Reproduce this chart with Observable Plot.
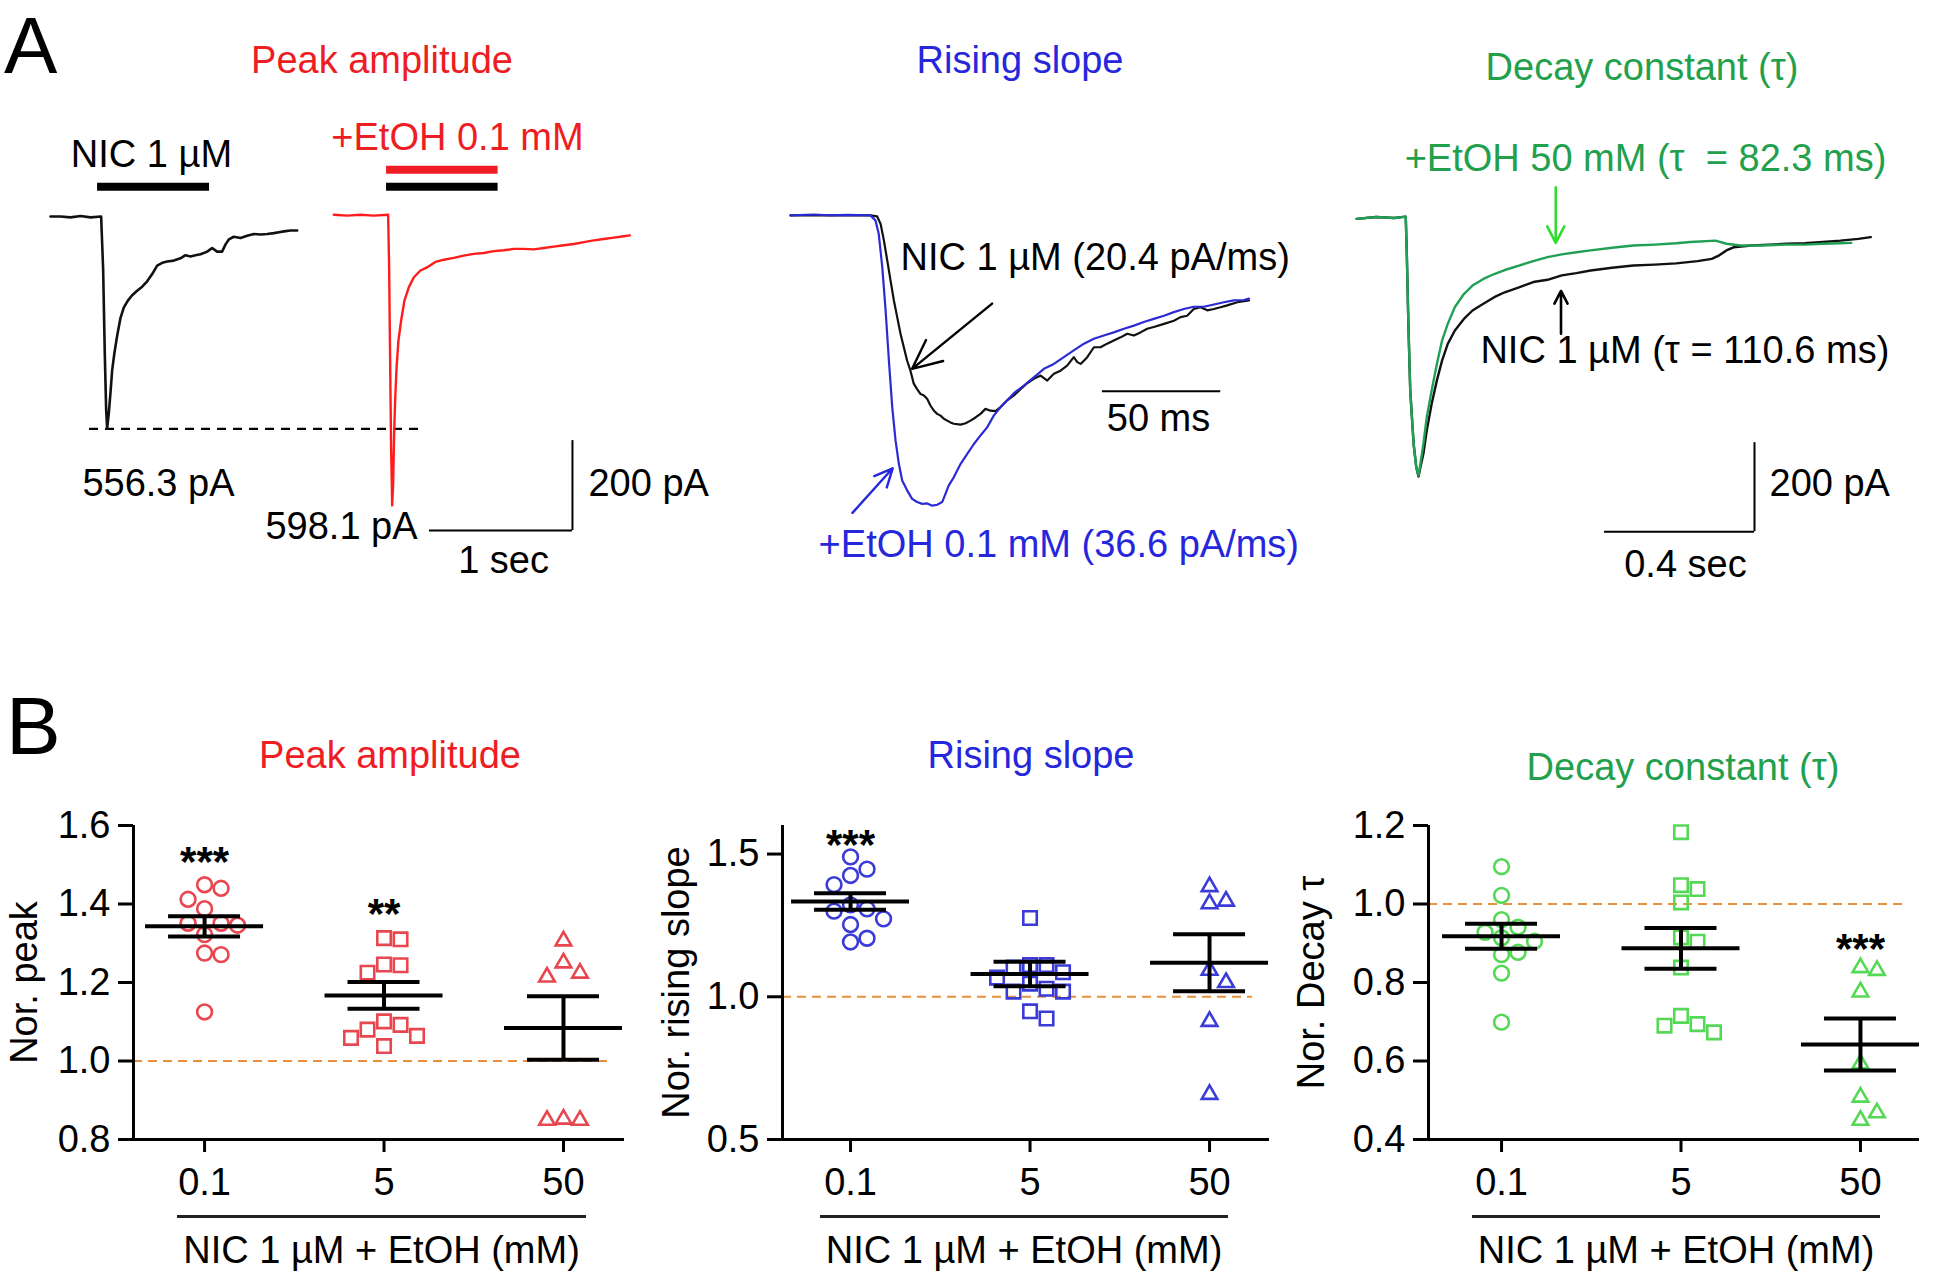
<!DOCTYPE html>
<html><head><meta charset="utf-8">
<script src="https://cdn.jsdelivr.net/npm/d3@7"></script>
<script src="https://cdn.jsdelivr.net/npm/@observablehq/plot@0.6"></script>
<style>
body{margin:0;background:#fff;}
#fig{position:relative;width:1933px;height:1278px;overflow:hidden;background:#fff;font-family:"Liberation Sans",Arial,Helvetica,sans-serif;}
.lbl{position:absolute;white-space:pre;line-height:1;}
</style></head><body><div id="fig"></div>
<script>
// ---------------- DATA ----------------
// Panel A traces: [time, current (pA)]
const peakNicTrace = [[0.07,0],[0.14,0],[0.21,-2],[0.28,1],[0.35,-2],[0.424,0],[0.438,-117],[0.45,-311],[0.459,-428],[0.466,-471],[0.478,-436],[0.49,-389],[0.501,-342],[0.517,-303],[0.536,-265],[0.559,-226],[0.583,-202],[0.611,-187],[0.641,-175],[0.676,-165],[0.711,-156],[0.746,-144],[0.781,-128],[0.816,-109],[0.851,-103],[0.886,-100],[0.932,-98],[0.979,-93],[1.014,-86],[1.049,-89],[1.084,-86],[1.119,-84],[1.166,-78],[1.2,-70],[1.235,-78],[1.27,-78],[1.294,-62],[1.317,-51],[1.352,-45],[1.399,-48],[1.445,-43],[1.492,-39],[1.538,-40],[1.585,-39],[1.632,-37],[1.667,-35],[1.702,-33],[1.748,-31],[1.795,-31]];
const peakEtohTrace = [[2.051,4],[2.145,2],[2.238,4],[2.331,2],[2.431,4],[2.438,-113],[2.443,-261],[2.448,-409],[2.452,-520],[2.457,-594],[2.459,-642],[2.466,-594],[2.473,-483],[2.48,-409],[2.49,-335],[2.503,-276],[2.522,-231],[2.545,-187],[2.576,-157],[2.611,-135],[2.657,-120],[2.704,-113],[2.762,-101],[2.821,-96],[2.89,-92],[2.96,-87],[3.03,-83],[3.1,-81],[3.17,-77],[3.24,-75],[3.31,-72],[3.38,-72],[3.45,-73],[3.52,-70],[3.59,-67],[3.66,-64],[3.73,-61],[3.8,-57],[3.869,-53],[3.939,-50],[4.009,-47],[4.079,-44],[4.121,-42]];
const slopeNicTrace = [[4.2,-2],[21.1,-2],[38.0,-2],[40.8,-4],[42.3,-21],[43.7,-58],[45.1,-102],[46.5,-147],[47.9,-191],[49.3,-228],[50.7,-265],[52.1,-295],[53.5,-325],[54.9,-347],[56.3,-376],[57.7,-388],[59.2,-399],[60.6,-402],[62.0,-410],[63.4,-425],[64.8,-436],[66.2,-443],[67.6,-447],[69.0,-454],[70.4,-458],[71.8,-462],[73.2,-465],[76.1,-467],[78.2,-464],[80.3,-458],[82.4,-451],[84.5,-443],[86.6,-432],[88.7,-436],[90.8,-437],[93.0,-428],[95.8,-413],[98.6,-402],[101.4,-388],[104.2,-375],[107.0,-365],[109.9,-358],[112.7,-369],[115.5,-354],[118.3,-347],[121.1,-336],[123.9,-317],[125.4,-328],[126.8,-332],[129.6,-317],[132.4,-295],[135.2,-295],[138.0,-287],[140.8,-280],[143.7,-273],[146.5,-265],[149.3,-269],[152.1,-262],[154.9,-254],[157.7,-250],[162.0,-243],[166.2,-236],[169.0,-228],[171.8,-225],[174.6,-210],[177.5,-206],[180.3,-213],[183.1,-210],[185.9,-206],[188.7,-202],[193.0,-195],[197.9,-191]];
const slopeEtohTrace = [[4.2,-2],[14.1,0],[21.1,-2],[28.2,-1],[38.0,-2],[40.1,-13],[41.5,-43],[43.0,-117],[44.4,-213],[45.8,-325],[47.2,-428],[48.6,-502],[50.0,-554],[51.4,-591],[53.5,-613],[55.6,-632],[57.7,-639],[59.9,-643],[62.0,-642],[64.1,-647],[66.2,-645],[68.3,-639],[69.7,-621],[71.1,-602],[73.2,-584],[76.1,-554],[78.9,-532],[81.7,-510],[84.5,-491],[87.3,-473],[90.1,-447],[93.0,-428],[95.8,-413],[98.6,-397],[102.8,-380],[107.0,-362],[111.3,-343],[115.5,-332],[119.7,-317],[123.9,-302],[128.2,-287],[132.4,-276],[136.6,-269],[140.8,-262],[145.1,-254],[149.3,-247],[153.5,-239],[157.7,-232],[162.0,-225],[166.2,-217],[170.4,-210],[174.6,-205],[178.9,-205],[183.1,-200],[187.3,-195],[191.5,-191],[195.8,-190],[197.9,-187]];
const decayNicTrace = [[0.043,-3],[0.095,1],[0.143,-1],[0.174,2],[0.177,-89],[0.181,-239],[0.186,-389],[0.195,-509],[0.202,-561],[0.208,-582],[0.213,-561],[0.221,-531],[0.23,-479],[0.243,-419],[0.257,-366],[0.271,-321],[0.286,-284],[0.305,-254],[0.329,-228],[0.352,-209],[0.381,-194],[0.41,-179],[0.438,-168],[0.476,-157],[0.514,-145],[0.552,-140],[0.59,-130],[0.629,-125],[0.667,-119],[0.724,-113],[0.781,-108],[0.838,-106],[0.895,-103],[0.952,-98],[0.99,-93],[1.01,-85],[1.029,-74],[1.048,-67],[1.095,-63],[1.143,-61],[1.19,-59],[1.238,-58],[1.286,-55],[1.333,-52],[1.381,-48],[1.414,-44]];
const decayEtohTrace = [[0.043,-3],[0.095,1],[0.143,-1],[0.174,2],[0.177,-89],[0.181,-239],[0.186,-389],[0.195,-509],[0.202,-561],[0.208,-580],[0.213,-554],[0.221,-509],[0.23,-449],[0.243,-389],[0.257,-329],[0.271,-276],[0.286,-239],[0.305,-201],[0.329,-172],[0.352,-153],[0.381,-138],[0.41,-127],[0.438,-118],[0.476,-108],[0.514,-98],[0.552,-89],[0.59,-83],[0.629,-78],[0.667,-74],[0.724,-68],[0.781,-63],[0.838,-61],[0.895,-58],[0.933,-55],[1.0,-52],[1.029,-59],[1.067,-63],[1.124,-63],[1.181,-61],[1.238,-61],[1.286,-59],[1.333,-58],[1.362,-57]];

// Panel A annotations (time, current)
const peakDash = [{t1: 0.343, t2: 2.692, i: -472}];
const peakBars = [{t1: 0.399, t2: 1.182, i: 66, c: "#000"}, {t1: 2.42, t2: 3.20, i: 104, c: "red"}, {t1: 2.42, t2: 3.20, i: 66, c: "#000"}];
const peakScale = {t1: 2.72, t2: 3.72, i1: -698, i2: -498};
const peakLabelsMid = [{t: 0.776, i: 111, s: "NIC 1 µM", c: "#000"}, {t: 2.916, i: 147, s: "+EtOH 0.1 mM", c: "red"}, {t: 0.825, i: -622, s: "556.3 pA", c: "#000"}, {t: 2.105, i: -716, s: "598.1 pA", c: "#000"}, {t: 3.238, i: -793, s: "1 sec", c: "#000"}];
const peakLabelsStart = [{t: 3.832, i: -620, s: "200 pA", c: "#000"}];

const slopeScale = {t1: 136.0, t2: 186.0, i: -393};
const slopeArrows = [{t1: 89.4, i1: -198, t2: 55.6, i2: -343, c: "#000"}, {t1: 30.4, i1: -663, t2: 47.4, i2: -564, c: "blue"}];
const slopeLabelsStart = [{t: 50.7, i: -123, s: "NIC 1 µM (20.4 pA/ms)", c: "#000"}, {t: 16.1, i: -762, s: "+EtOH 0.1 mM (36.6 pA/ms)", c: "blue"}];
const slopeLabelsMid = [{t: 159.7, i: -482, s: "50 ms", c: "#000"}];

const decayScale = {t1: 0.704, t2: 1.104, i1: -706, i2: -506};
const decayArrows = [{t1: 0.574, i1: 68, t2: 0.574, i2: -57, c: "green"}, {t1: 0.588, i1: -261, t2: 0.588, i2: -165, c: "#000"}];
const decayLabelsStart = [{t: 0.171, i: 105, s: "+EtOH 50 mM (τ\u00a0 = 82.3 ms)", c: "green"}, {t: 0.373, i: -328, s: "NIC 1 µM (τ = 110.6 ms)", c: "#000"}, {t: 1.144, i: -625, s: "200 pA", c: "#000"}];
const decayLabelsMid = [{t: 0.92, i: -807, s: "0.4 sec", c: "#000"}];

// Panel B data
const doses = ["0.1", "5", "50"];
const peak01 = [1.449, 1.440, 1.412, 1.388, 1.351, 1.351, 1.346, 1.322, 1.275, 1.271, 1.125];
const peak5 = [1.313, 1.310, 1.246, 1.244, 1.225, 1.101, 1.092, 1.080, 1.064, 1.059, 1.038];
const peak50 = [1.306, 1.250, 1.224, 1.214, 0.852, 0.849, 0.849];
const peakMean = [1.343, 1.167, 1.084];
const peakSem = [0.026, 0.034, 0.081];
const peakStars = [{g: 0, y: 1.529, s: "***"}, {g: 1, y: 1.396, s: "**"}];

const slope01 = [1.490, 1.447, 1.425, 1.393, 1.322, 1.308, 1.300, 1.273, 1.253, 1.205, 1.192];
const slope5 = [1.276, 1.111, 1.111, 1.102, 1.086, 1.067, 1.046, 1.028, 1.018, 1.018, 0.949, 0.924];
const slope50 = [1.386, 1.335, 1.326, 1.093, 1.050, 0.914, 0.658];
const slopeMean = [1.334, 1.080, 1.119];
const slopeSem = [0.029, 0.043, 0.100];
const slopeStars = [{g: 0, y: 1.561, s: "***"}];

const decay01 = [1.095, 1.022, 0.960, 0.941, 0.928, 0.914, 0.905, 0.877, 0.871, 0.824, 0.699];
const decay5 = [1.183, 1.048, 1.038, 1.004, 0.915, 0.904, 0.838, 0.715, 0.694, 0.690, 0.673];
const decay50 = [0.838, 0.831, 0.776, 0.593, 0.508, 0.468, 0.449];
const decayMean = [0.918, 0.887, 0.642];
const decaySem = [0.032, 0.052, 0.066];
const decayStars = [{g: 2, y: 0.907, s: "***"}];

// ---------------- STYLE ----------------
const FONT = '"Liberation Sans", Arial, Helvetica, sans-serif';
const FS = 38;
const COL = {red: "#ee1d23", blue: "#2626dc", green: "#22a04c", greenArrow: "#30dd30", orange: "#e8903c",
  mred: "#e8474f", mblue: "#3b3bd8", mgreen: "#55d855", redTrace: "#ff1c1c", blueTrace: "#2b2bd6", greenTrace: "#1fa055"};
const colorMap = c => ({red: COL.red, blue: COL.blue, green: COL.green}[c] || c);
const fig = document.getElementById("fig");

function addText(txt, x, baseline, {size = FS, color = "#000", anchor = "middle", weight = "normal"} = {}) {
  const d = document.createElement("div");
  d.className = "lbl"; d.textContent = txt;
  d.style.fontSize = size + "px"; d.style.color = color; d.style.fontWeight = weight;
  d.style.top = (baseline - 0.8465 * size) + "px";
  d.style.left = x + "px";
  if (anchor === "middle") d.style.transform = "translateX(-50%)";
  fig.appendChild(d);
}
function addLine(x, y, w, h) {
  const d = document.createElement("div");
  Object.assign(d.style, {position: "absolute", left: x + "px", top: y + "px", width: w + "px", height: h + "px", background: "#222"});
  fig.appendChild(d);
}
function mount(el, left, top) {
  el.style.position = "absolute"; el.style.left = left + "px"; el.style.top = top + "px";
  fig.appendChild(el);
}
const svgStyle = {background: "transparent", fontFamily: FONT, fontSize: FS + "px", color: "#000", overflow: "visible"};

// ---------------- PANEL A ----------------
function textMarks(arr, anchor) {
  return Plot.text(arr, {x: "t", y: "i", text: "s", fill: d => colorMap(d.c), textAnchor: anchor, lineAnchor: "bottom", fontSize: FS});
}

// A left: Peak amplitude (143 px/s, 0.45 px/pA)
const AL = Plot.plot({
  width: 720, height: 600, marginTop: 0, marginRight: 0, marginBottom: 0, marginLeft: 0,
  x: {domain: [-40 / 143, 680 / 143], axis: null},
  y: {domain: [-(600 - 216) / 0.45, 216 / 0.45], axis: null},
  color: {type: "identity"},
  style: svgStyle,
  marks: [
    Plot.ruleY(peakDash, {x1: "t1", x2: "t2", y: "i", stroke: "#000", strokeWidth: 2.2, strokeDasharray: "9,7"}),
    Plot.ruleY(peakBars, {x1: "t1", x2: "t2", y: "i", stroke: d => colorMap(d.c), strokeWidth: 8}),
    Plot.line(peakNicTrace, {stroke: "#111", strokeWidth: 2.6}),
    Plot.line(peakEtohTrace, {stroke: COL.redTrace, strokeWidth: 2.4}),
    Plot.ruleY([peakScale], {x1: "t1", x2: "t2", y: "i1", stroke: "#000", strokeWidth: 2}),
    Plot.ruleX([peakScale], {x: "t2", y1: "i1", y2: "i2", stroke: "#000", strokeWidth: 2}),
    textMarks(peakLabelsMid, "middle"),
    textMarks(peakLabelsStart, "start")
  ]
});
mount(AL, 0, 0);

// A middle: Rising slope (2.367 px/ms, 0.45 px/pA)
const AM = Plot.plot({
  width: 600, height: 600, marginTop: 0, marginRight: 0, marginBottom: 0, marginLeft: 0,
  x: {domain: [-40 / 2.367, 560 / 2.367], axis: null},
  y: {domain: [-(600 - 214) / 0.45, 214 / 0.45], axis: null},
  color: {type: "identity"},
  style: svgStyle,
  marks: [
    Plot.line(slopeNicTrace, {stroke: "#111", strokeWidth: 2.2}),
    Plot.line(slopeEtohTrace, {stroke: COL.blueTrace, strokeWidth: 2.2}),
    Plot.ruleY([slopeScale], {x1: "t1", x2: "t2", y: "i", stroke: "#000", strokeWidth: 2}),
    Plot.arrow(slopeArrows, {x1: "t1", y1: "i1", x2: "t2", y2: "i2", stroke: d => colorMap(d.c), strokeWidth: 2.4, headLength: 20, headAngle: 50}),
    textMarks(slopeLabelsStart, "start"),
    textMarks(slopeLabelsMid, "middle")
  ]
});
mount(AM, 740, 0);

// A right: Decay constant (375 px/s, 0.445 px/pA)
const AR = Plot.plot({
  width: 593, height: 600, marginTop: 0, marginRight: 0, marginBottom: 0, marginLeft: 0,
  x: {domain: [0, 593 / 375], axis: null},
  y: {domain: [-(600 - 217) / 0.445, 217 / 0.445], axis: null},
  color: {type: "identity"},
  style: svgStyle,
  marks: [
    Plot.line(decayNicTrace, {stroke: "#111", strokeWidth: 2.4}),
    Plot.line(decayEtohTrace, {stroke: COL.greenTrace, strokeWidth: 2.4}),
    Plot.ruleY([decayScale], {x1: "t1", x2: "t2", y: "i1", stroke: "#000", strokeWidth: 2}),
    Plot.ruleX([decayScale], {x: "t2", y1: "i1", y2: "i2", stroke: "#000", strokeWidth: 2}),
    Plot.arrow(decayArrows, {x1: "t1", y1: "i1", x2: "t2", y2: "i2", stroke: d => d.c === "green" ? COL.greenArrow : "#000", strokeWidth: 2.6, headLength: 16, headAngle: 55}),
    textMarks(decayLabelsStart, "start"),
    textMarks(decayLabelsMid, "middle")
  ]
});
mount(AR, 1340, 0);

// ---------------- PANEL B ----------------
function swarm(values, pxPerUnit, diam, step) {
  const order = d3.range(values.length).sort((a, b) => values[b] - values[a]);
  const placed = [], out = new Array(values.length);
  for (const i of order) {
    const y = values[i] * pxPerUnit;
    let k = 0, cand = 0;
    for (;;) {
      cand = k === 0 ? 0 : (k % 2 ? 1 : -1) * Math.ceil(k / 2) * step;
      if (placed.every(p => (p.x - cand) ** 2 + (p.y - y) ** 2 >= diam * diam - 0.01)) break;
      k++;
    }
    placed.push({x: cand, y});
    out[i] = cand;
  }
  return out;
}

function panelB(cfg) {
  const {width, marginLeft, marginRight, xDomain, yDomain, yTicks, yLabel, labelOffset, groups, means, sems, stars, color, refEnd} = cfg;
  const pxPerX = (width - marginLeft - marginRight) / (xDomain[1] - xDomain[0]);
  const pxPerY = 314 / (yDomain[1] - yDomain[0]);
  const pts = groups.map((vals, g) => {
    const offs = swarm(vals, pxPerY, 16.5, 16.5);
    return vals.map((v, i) => ({x: g + offs[i] / pxPerX, v}));
  });
  const stats = means.map((m, g) => ({g, m, lo: m - sems[g], hi: m + sems[g]}));
  const mh = 59 / pxPerX, ch = 36 / pxPerX;
  return Plot.plot({
    width, height: 488, marginTop: 35, marginBottom: 139, marginLeft, marginRight,
    x: {domain: xDomain, label: null},
    y: {domain: yDomain, label: null},
    style: svgStyle,
    marks: [
      Plot.ruleY([1], {x1: xDomain[0], x2: refEnd, stroke: COL.orange, strokeWidth: 2.2, strokeDasharray: "9,6"}),
      Plot.dot(pts[0], {x: "x", y: "v", symbol: "circle", r: 7.4, stroke: color, strokeWidth: 2.6, fill: "none"}),
      Plot.dot(pts[1], {x: "x", y: "v", symbol: "square", r: 7.6, stroke: color, strokeWidth: 2.6, fill: "none"}),
      Plot.dot(pts[2], {x: "x", y: "v", symbol: "triangle", r: 5.8, stroke: color, strokeWidth: 2.6, fill: "none"}),
      Plot.ruleY(stats, {x1: d => d.g - mh, x2: d => d.g + mh, y: "m", stroke: "#000", strokeWidth: 4}),
      Plot.ruleY(stats, {x1: d => d.g - ch, x2: d => d.g + ch, y: "lo", stroke: "#000", strokeWidth: 4}),
      Plot.ruleY(stats, {x1: d => d.g - ch, x2: d => d.g + ch, y: "hi", stroke: "#000", strokeWidth: 4}),
      Plot.ruleX(stats, {x: "g", y1: "lo", y2: "hi", stroke: "#000", strokeWidth: 4}),
      Plot.text(stars, {x: "g", y: "y", text: "s", fontSize: 42, fontWeight: "bold", lineAnchor: "middle", dy: 9, fill: "#000"}),
      Plot.ruleX([xDomain[0]], {y1: yDomain[0], y2: yDomain[1], stroke: "#000", strokeWidth: 3}),
      Plot.ruleY([yDomain[0]], {x1: xDomain[0], x2: xDomain[1], stroke: "#000", strokeWidth: 3}),
      Plot.axisY(yTicks, {tickSize: 15, tickPadding: 8, tickFormat: d3.format(".1f"), strokeWidth: 3,
        label: yLabel, labelAnchor: "center", labelOffset, labelArrow: "none"}),
      Plot.axisX([0, 1, 2], {tickSize: 13, tickPadding: 16, tickFormat: i => doses[i], strokeWidth: 3, label: null})
    ]
  });
}

mount(panelB({width: 640, marginLeft: 133, marginRight: 16, xDomain: [-0.396, 2.340], yDomain: [0.8, 1.6],
  yTicks: [0.8, 1.0, 1.2, 1.4, 1.6], yLabel: "Nor. peak", labelOffset: 123,
  groups: [peak01, peak5, peak50], means: peakMean, sems: peakSem, stars: peakStars, color: COL.mred, refEnd: 2.273}), 0, 790);
mount(panelB({width: 640, marginLeft: 142, marginRight: 11, xDomain: [-0.379, 2.334], yDomain: [0.5, 1.6],
  yTicks: [0.5, 1.0, 1.5], yLabel: "Nor. rising slope", labelOffset: 120,
  groups: [slope01, slope5, slope50], means: slopeMean, sems: slopeSem, stars: slopeStars, color: COL.mblue, refEnd: 2.24}), 640, 790);
mount(panelB({width: 653, marginLeft: 148, marginRight: 14, xDomain: [-0.407, 2.329], yDomain: [0.4, 1.2],
  yTicks: [0.4, 0.6, 0.8, 1.0, 1.2], yLabel: "Nor. Decay τ", labelOffset: 131,
  groups: [decay01, decay5, decay50], means: decayMean, sems: decaySem, stars: decayStars, color: COL.mgreen, refEnd: 2.25}), 1280, 790);

// ---------------- HTML TEXT ----------------
addText("A", 4, 74, {size: 80, anchor: "start"});
addText("B", 6, 754, {size: 82, anchor: "start"});
addText("Peak amplitude", 382, 73.5, {color: COL.red});
addText("Rising slope", 1020, 73.5, {color: COL.blue});
addText("Decay constant (τ)", 1642, 80, {color: COL.green});
addText("Peak amplitude", 390, 768, {color: COL.red});
addText("Rising slope", 1031, 768, {color: COL.blue});
addText("Decay constant (τ)", 1683, 780, {color: COL.green});
const xLabel = "NIC 1 µM + EtOH (mM)";
[[177, 409], [820, 408], [1472, 408]].forEach(([x, w]) => {
  addLine(x, 1215, w, 3);
  addText(xLabel, x + w / 2, 1263);
});
</script></body></html>
